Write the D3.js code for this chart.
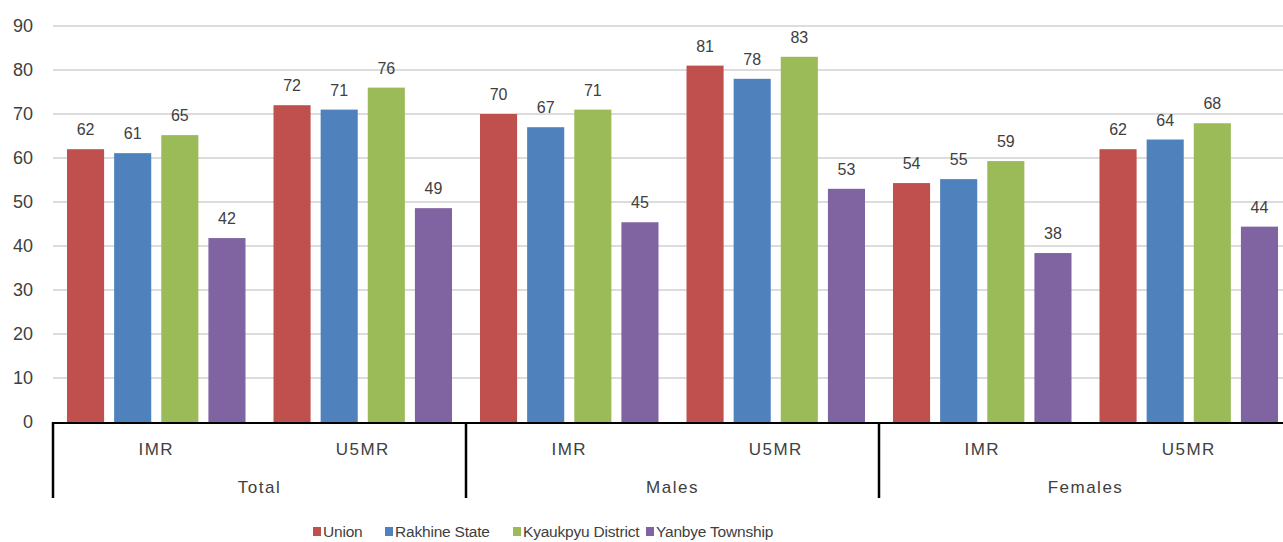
<!DOCTYPE html>
<html>
<head>
<meta charset="utf-8">
<script src="https://cdn.jsdelivr.net/npm/d3@7"></script>
<style>
  html, body { margin: 0; padding: 0; background: #fff; }
  svg { display: block; font-family: "Liberation Sans", Arial, sans-serif; }
</style>
</head>
<body>
<svg id="chart" width="1283" height="542"></svg>
<script>
// ---- data ----
const groups = ["Total", "Males", "Females"];
const subcategories = ["IMR", "U5MR"];
const seriesNames = ["Union", "Rakhine State", "Kyaukpyu District", "Yanbye Township"];
const seriesColors = ["#C0504D", "#4F81BD", "#9BBB59", "#8064A2"];
// values ordered by group, then subcategory: Total IMR, Total U5MR, Males IMR, Males U5MR, Females IMR, Females U5MR
const union     = [62, 72, 70, 81, 54.3, 62];
const rakhine   = [61.1, 71, 67, 78, 55.2, 64.2];
const kyaukpyu  = [65.2, 76, 71, 83, 59.3, 67.9];
const yanbye    = [41.8, 48.6, 45.4, 53, 38.4, 44.4];
const yTicks = [0, 10, 20, 30, 40, 50, 60, 70, 80, 90];

const seriesValues = [union, rakhine, kyaukpyu, yanbye];

// ---- layout ----
const svg = d3.select("#chart");
const mLeft = 53, mBottom = 422, mTop = 26;
const groupW = 413;

const y = d3.scaleLinear().domain([0, 90]).range([mBottom, mTop]);
const x0 = d3.scaleBand().domain(groups).range([mLeft, mLeft + groupW * groups.length]).padding(0);
const x1 = d3.scaleBand().domain(subcategories).range([0, x0.bandwidth()]).padding(0);
const x2 = d3.scaleBand().domain(seriesNames).range([14, x1.bandwidth() - 14]).paddingInner(0.213).paddingOuter(0);

// gridlines
svg.append("g").selectAll("line").data(yTicks.filter(d => d > 0)).join("line")
  .attr("x1", mLeft).attr("x2", 1283)
  .attr("y1", d => y(d)).attr("y2", d => y(d))
  .attr("stroke", "#d0d0d0").attr("stroke-width", 1.5);

// y tick labels
svg.append("g").selectAll("text").data(yTicks).join("text")
  .attr("x", 33).attr("y", d => y(d)).attr("dy", "0.35em")
  .attr("text-anchor", "end").attr("font-size", 18).attr("fill", "#404040")
  .text(d => d);

// bars
const cells = [];
groups.forEach((g, gi) => subcategories.forEach((s, si) => {
  const idx = gi * subcategories.length + si;
  seriesNames.forEach((n, ni) => cells.push({g, s, n, ni, v: seriesValues[ni][idx]}));
}));

svg.append("g").selectAll("rect").data(cells).join("rect")
  .attr("x", d => x0(d.g) + x1(d.s) + x2(d.n))
  .attr("width", x2.bandwidth())
  .attr("y", d => y(d.v))
  .attr("height", d => mBottom - y(d.v))
  .attr("fill", d => seriesColors[d.ni]);

// value labels
svg.append("g").selectAll("text").data(cells).join("text")
  .attr("x", d => x0(d.g) + x1(d.s) + x2(d.n) + x2.bandwidth() / 2)
  .attr("y", d => y(d.v) - 14)
  .attr("text-anchor", "middle").attr("font-size", 16).attr("fill", "#404040")
  .text(d => Math.round(d.v));

// category axis
const axis = svg.append("g");
axis.append("line").attr("x1", mLeft).attr("x2", 1283).attr("y1", mBottom + 1).attr("y2", mBottom + 1)
  .attr("stroke", "#000").attr("stroke-width", 2);
axis.selectAll("line.div").data(groups).join("line").attr("class", "div")
  .attr("x1", d => x0(d)).attr("x2", d => x0(d))
  .attr("y1", mBottom).attr("y2", 498)
  .attr("stroke", "#000").attr("stroke-width", 2.5);

const subs = [];
groups.forEach(g => subcategories.forEach(s => subs.push({g, s})));
axis.selectAll("text.sub").data(subs).join("text").attr("class", "sub")
  .attr("x", d => x0(d.g) + x1(d.s) + x1.bandwidth() / 2)
  .attr("y", 449).attr("dy", "0.35em")
  .attr("text-anchor", "middle").attr("font-size", 17).attr("letter-spacing", "1.5px").attr("fill", "#404040")
  .text(d => d.s);
axis.selectAll("text.grp").data(groups).join("text").attr("class", "grp")
  .attr("x", d => x0(d) + x0.bandwidth() / 2)
  .attr("y", 487).attr("dy", "0.35em")
  .attr("text-anchor", "middle").attr("font-size", 17).attr("letter-spacing", "1.5px").attr("fill", "#404040")
  .text(d => d);

// legend
const legendX = [313, 385, 513, 646];
const lg = svg.append("g").selectAll("g").data(seriesNames).join("g")
  .attr("transform", (d, i) => `translate(${legendX[i]},532)`);
lg.append("rect").attr("x", 0).attr("y", -5).attr("width", 8).attr("height", 9)
  .attr("fill", (d, i) => seriesColors[i]);
lg.append("text").attr("x", 10).attr("y", 0).attr("dy", "0.35em")
  .attr("font-size", 15.5).attr("letter-spacing", "-0.2px").attr("fill", "#404040")
  .text(d => d);
</script>
</body>
</html>
